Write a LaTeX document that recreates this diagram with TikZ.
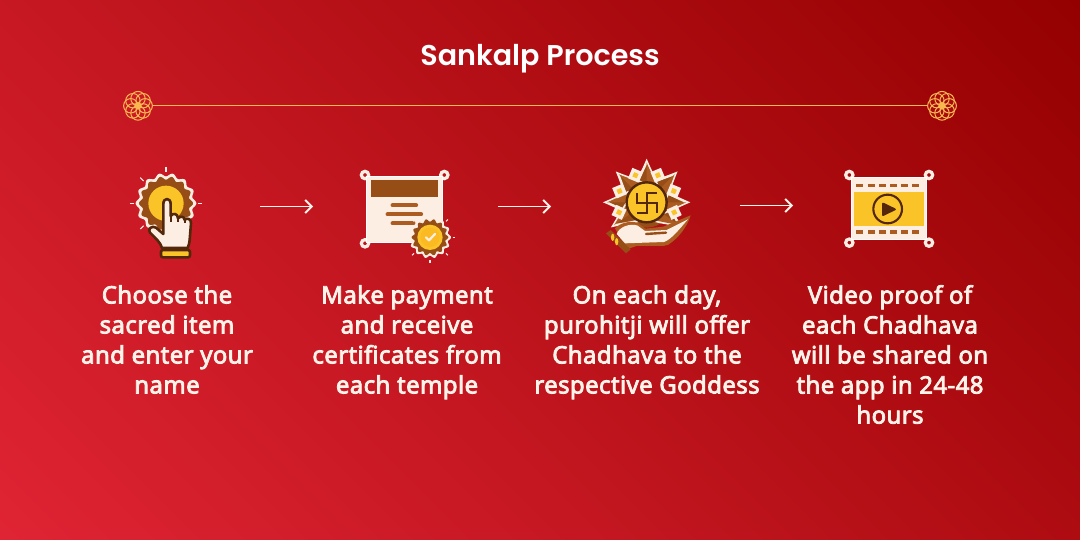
\documentclass[tikz,border=0pt]{standalone}
\usepackage{fontspec}
\usetikzlibrary{arrows.meta}
\newfontfamily\bodyf{Noto Sans}[FakeBold=3.2,LetterSpace=1.6]
\newfontfamily\titlef{Poppins SemiBold}
\definecolor{bgA}{RGB}{224,36,52}
\definecolor{bgB}{RGB}{148,0,0}
\definecolor{pale}{RGB}{253,238,228}
\definecolor{txt}{RGB}{255,243,234}
\definecolor{gold}{RGB}{250,196,40}
\definecolor{brn}{RGB}{150,78,22}
\definecolor{midb}{RGB}{172,92,32}
\definecolor{dark}{RGB}{84,38,10}
\definecolor{lin}{RGB}{250,185,80}
\pgfdeclarehorizontalshading{bgshade}{1300pt}{rgb(0pt)=(.878,.141,.204); rgb(1146pt)=(.58,0,0)}
\tikzset{
 steptext/.style={font=\bodyf\fontsize{24}{30}\selectfont,text=txt,align=center,anchor=north,inner sep=0pt},
 flow/.style={draw=txt,line width=1.9pt,-{Straight Barb[length=6.5pt,width=13pt,line width=1.9pt]}},
 corner/.style={draw=pale,line width=3.2pt},
 sparkline/.style={pale,line width=1.1pt},
}
\newcommand{\scallop}[6]{% cx cy R a n color
 \fill[#6,shift={(#1,#2)}] plot[domain=0:360,samples=240,smooth] ({(#3+#4*cos(#5*\x))*cos(\x)},{(#3+#4*cos(#5*\x))*sin(\x)}) -- cycle;}
\newcommand{\rosette}[2]{%
 \begin{scope}[shift={(#1,#2)},draw=lin,line width=1pt]
 \foreach \a in {0,45,...,315}{\draw (\a:7.2) circle (7.2);}
 \draw (0,0) circle (3);
 \end{scope}}
\begin{document}
\begin{tikzpicture}[x=1pt,y=-1pt]
\useasboundingbox (0,0) rectangle (1080,540);
\begin{scope}
\clip (0,0) rectangle (1080,540);
\node[inner sep=0pt,rotate=45] (bg) at (540,270) {\pgfuseshading{bgshade}};
\end{scope}
\node[font=\titlef\fontsize{28.6}{34}\selectfont,text=white,inner sep=0pt] (title) at (540,59) {Sankalp Process};
% divider
\coordinate (dl) at (138,105.8); \coordinate (dr) at (942,105.8);
\draw[lin,line width=1.3pt] (dl) -- (dr);
\fill[bgA!72!bgB] (138,105.8) circle (14);
\fill[bgA!28!bgB] (942,105.8) circle (14);
\rosette{138}{105.8}\rosette{942}{105.8}
% ICON 1
\begin{scope}[shift={(120,160)},x=.3333pt,y=-.3333pt]
 \scallop{138}{130}{86}{5}{14}{pale}
 \scallop{138}{130}{76}{5}{14}{brn}
 \fill[gold] (138,130) circle (53);
 \foreach \a in {0,180,45,135,225,270}{\draw[sparkline] (\a:95)++(138,130) -- ++(\a:14);}
 \draw[dark,fill=pale,line width=2.6pt,line join=round] (130,132) .. controls (130,112) and (152,112) .. (152,132) -- (152,168)
  .. controls (158,158) and (174,160) .. (174,175) .. controls (180,168) and (194,168) .. (194,180)
  .. controls (200,172) and (214,176) .. (213,190) -- (209,240) .. controls (208,252) and (205,258) .. (203,264)
  -- (126,264) .. controls (122,248) and (108,236) .. (90,218) .. controls (82,208) and (95,195) .. (108,203) -- (130,222) -- cycle;
 \draw[dark,line width=1.8pt] (152,168) -- (152,185) (174,175) -- (174,187) (194,180) -- (194,190);
 \draw[dark,fill=gold,line width=2.6pt,rounded corners=2pt] (123,270) rectangle (210,292);
\end{scope}
% ICON 2
\begin{scope}[shift={(350,160)},x=.3333pt,y=-.3333pt]
 \foreach \p in {(45,45),(283,45),(45,250)}{\draw[corner] \p circle (11);}
 \draw[white,fill=pale,line width=1pt] (50,50) rectangle (278,248);
 \fill[brn] (63,60) rectangle (265,110);
 \draw[midb,line width=4.3pt,line cap=round] (128,136) -- (198,136) (113,163) -- (213,163) (128,190) -- (190,190);
 \scallop{240}{232}{59}{4}{14}{pale}
 \scallop{240}{232}{51}{4}{14}{brn}
 \fill[gold] (240,232) circle (38);
 \fill[gold!85!orange] (240,232) circle (29);
 \draw[pale,line width=2.2pt,line cap=round,line join=round] (228,232) -- (237,241) -- (255,222);
 \foreach \a in {0,45,135,-45,-135,90}{\draw[sparkline] (\a:68)++(240,232) -- ++(\a:8);}
\end{scope}
% ICON 3 flower
\begin{scope}[shift={(595,155)},x=.3333pt,y=-.3333pt]
 \fill[brn] (155,142) circle (76);
 \foreach \a in {-35,0,45,90,135,180,215}{%
  \begin{scope}[shift={(155,142)},rotate=\a]
  \draw[pale,fill=brn,line width=2.4pt,line join=miter] (50,-32) .. controls (72,-24) and (98,-10) .. (122,0) .. controls (98,10) and (72,24) .. (50,32);
  \fill[midb] (45,0) -- (119,0) .. controls (98,9) and (72,22) .. (50,30) -- cycle;
  \end{scope}}
 \foreach \a in {-20,22.5,67.5,112.5,157.5,200}{%
  \begin{scope}[shift={(155,142)},rotate=\a]
  \fill[pale] (64,0) -- (88,-24) -- (112,0) -- (88,24) -- cycle;
  \fill[gold] (88,-10) -- (98,0) -- (88,10) -- (78,0) -- cycle;
  \end{scope}}
 \draw[dark,fill=gold,line width=2.4pt] (155,142) circle (60);
 \draw[dark,line width=2.1pt,line cap=butt,line join=miter] (155,143) -- (155,114) -- (185,114)
  (155,143) -- (185,143) -- (185,175) (155,143) -- (155,175) -- (125,175) (155,143) -- (125,143) -- (125,114);
\end{scope}
% ICON 3 hand
\begin{scope}[shift={(600,210)},x=.3333pt,y=-.3333pt]
 \fill[midb,line join=round] (45,55) .. controls (60,38) and (95,30) .. (115,40) -- (137,56) -- (190,50) -- (272,16) .. controls (262,50) and (235,85) .. (205,104) -- (190,108) -- (110,108) -- (80,118) -- cycle;
 \fill[pale] (50,72) .. controls (56,52) and (90,38) .. (113,47) -- (135,63) -- (200,60) -- (264,28) .. controls (240,55) and (215,88) .. (192,96) -- (75,100) -- cycle;
 \draw[brn,line width=2.4pt,line cap=round] (138,72) -- (198,68);
 \fill[brn] (18,70) -- (32,60) -- (92,118) -- (78,130) -- cycle;
 \fill[gold] (38,82) ellipse (5 and 11) (50,95) ellipse (5 and 11);
\end{scope}
% ICON 4
\begin{scope}[shift={(835,160)},x=.3333pt,y=-.3333pt]
 \foreach \p in {(43,45),(282,45),(43,248),(282,248)}{\draw[corner] \p circle (11);}
 \draw[white,fill=pale,line width=1pt] (49,52) rectangle (276,240);
 \fill[gold] (58,95) rectangle (266,198);
 \foreach \i in {0,1,...,5}{%
  \fill[midb] ({64+\i*33.5},71) rectangle ++(21,11);
  \fill[midb] ({64+\i*33.5},210) rectangle ++(21,11);}
 \draw[dark,line width=2.1pt] (158,147) circle (43);
 \fill[dark,rounded corners=2pt] (141,126) -- (186,148) -- (141,170) -- cycle;
\end{scope}
% arrows
\coordinate (a1s) at (260,206.5); \coordinate (a1e) at (313,206.5);
\coordinate (a2s) at (498,206.5); \coordinate (a2e) at (551,206.5);
\coordinate (a3s) at (740,205.5); \coordinate (a3e) at (793,205.5);
\draw[flow] (a1s) -- (a1e);
\draw[flow] (a2s) -- (a2e);
\draw[flow] (a3s) -- (a3e);
% text
\node[steptext] (t1) at (167,285) {Choose the\\sacred item\\and enter your\\name};
\node[steptext] (t2) at (407,285) {Make payment\\and receive\\certificates from\\each temple};
\node[steptext] (t3) at (647,285) {On each day,\\purohitji will offer\\Chadhava to the\\respective Goddess};
\node[steptext] (t4) at (890,285) {Video proof of\\each Chadhava\\will be shared on\\the app in 24-48\\hours};
\end{tikzpicture}
\end{document}
